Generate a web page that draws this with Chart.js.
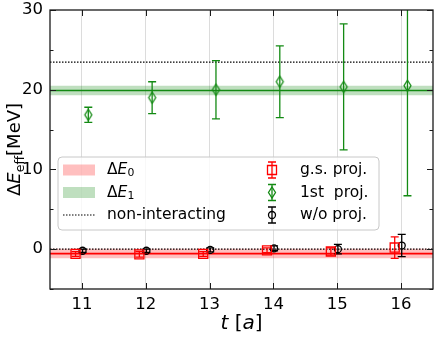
<!DOCTYPE html>
<html>
<head>
<meta charset="utf-8">
<script src="https://cdn.jsdelivr.net/npm/chart.js@4.4.0/dist/chart.umd.min.js"></script>
<style>
  html, body { margin: 0; padding: 0; background: #fff; }
  #wrap { width: 436px; height: 338px; }
</style>
</head>
<body>
<div id="wrap"><canvas id="chart" width="436" height="338"></canvas></div>
<script>
// time slices t [a]
const tValues = [11, 12, 13, 14, 15, 16];

// g.s. projected effective energies and errors
const gsVals = [-0.6, -0.65, -0.6, -0.15, -0.3, 0.2];
const gsErrs = [0.3, 0.35, 0.3, 0.3, 0.45, 1.35];

// 1st excited projected
const firstVals = [16.85, 19.0, 20.0, 21.0, 20.35, 20.5];
const firstErrs = [0.95, 2.0, 3.65, 4.5, 7.9, 13.8];

// without projection
const noProjVals = [-0.2, -0.2, -0.1, 0.1, 0.0, 0.45];
const noProjErrs = [0.2, 0.2, 0.25, 0.3, 0.6, 1.4];

// fit results [central, error]
const deltaE0 = [-0.55, 0.6];
const deltaE1 = [19.9, 0.6];
const nonInteracting = [0, 23.45];

const xRange = [10.5, 16.5];
const yRange = [-5, 30];
const xTicks = [11, 12, 13, 14, 15, 16];
const yMajorTicks = [0, 10, 20, 30];
const yMinorTicks = [-5, 5, 15, 25];

const RED = '#ff0000';
const GREEN = '#138a13';
const BLACK = '#000000';
const FONT = '"DejaVu Sans", sans-serif';

const pts = (vals, dx) => vals.map((v, i) => ({ x: tValues[i] + dx, y: v }));
const hline = y => [{ x: xRange[0], y: y }, { x: xRange[1], y: y }];

// thin diamond marker like matplotlib 'd'
function thinDiamond(color, w, h, lw) {
    const c = document.createElement('canvas');
    c.width = w + 4;
    c.height = h + 4;
    const g = c.getContext('2d');
    const cx = c.width / 2, cy = c.height / 2;
    g.strokeStyle = color;
    g.lineWidth = lw;
    g.beginPath();
    g.moveTo(cx, cy - h / 2);
    g.lineTo(cx + w / 2, cy);
    g.lineTo(cx, cy + h / 2);
    g.lineTo(cx - w / 2, cy);
    g.closePath();
    g.stroke();
    return c;
}
const diamondImg = thinDiamond(GREEN, 7, 11, 1.3);

function bandDataset(fit, color) {
    return {
        type: 'line',
        data: hline(fit[0] - fit[1]),
        fill: { value: fit[0] + fit[1] },
        backgroundColor: color,
        borderWidth: 0,
        pointRadius: 0,
        order: 5
    };
}

function lineDataset(y, color, width, dash) {
    return {
        type: 'line',
        data: hline(y),
        borderColor: color,
        borderWidth: width,
        borderDash: dash || [],
        pointRadius: 0,
        fill: false,
        order: 3
    };
}

// vertical error bars, drawn just before their markers
const errorBars = {
    id: 'errorBars',
    beforeDatasetDraw(chart, args) {
        const ds = chart.data.datasets[args.index];
        if (!ds.errors) return;
        const ctx = chart.ctx;
        const y = chart.scales.y;
        const area = chart.chartArea;
        ctx.save();
        ctx.beginPath();
        ctx.rect(area.left, area.top, area.right - area.left, area.bottom - area.top);
        ctx.clip();
        ctx.strokeStyle = ds.borderColor;
        ctx.lineWidth = 1.3;
        args.meta.data.forEach((p, i) => {
            const v = ds.data[i].y, e = ds.errors[i];
            const y1 = y.getPixelForValue(v + e), y2 = y.getPixelForValue(v - e);
            ctx.beginPath();
            ctx.moveTo(p.x, y1); ctx.lineTo(p.x, y2);
            ctx.moveTo(p.x - 4, y1); ctx.lineTo(p.x + 4, y1);
            ctx.moveTo(p.x - 4, y2); ctx.lineTo(p.x + 4, y2);
            ctx.stroke();
        });
        ctx.restore();
    }
};

function drawMath(ctx, parts, x, y, size) {
    parts.forEach(p => {
        const s = p.sub ? size * 0.7 : size;
        ctx.font = (p.italic ? 'italic ' : '') + s + 'px ' + FONT;
        ctx.fillText(p.t, x, y + (p.sub ? size * 0.22 : 0));
        x += ctx.measureText(p.t).width;
    });
    return x;
}
function mathWidth(ctx, parts, size) {
    let w = 0;
    parts.forEach(p => {
        const s = p.sub ? size * 0.7 : size;
        ctx.font = (p.italic ? 'italic ' : '') + s + 'px ' + FONT;
        w += ctx.measureText(p.t).width;
    });
    return w;
}

function legendMarker(ctx, x, y, color, kind) {
    ctx.strokeStyle = color;
    ctx.lineWidth = 1.3;
    ctx.beginPath();
    ctx.moveTo(x, y - 8); ctx.lineTo(x, y + 8);
    ctx.moveTo(x - 4, y - 8); ctx.lineTo(x + 4, y - 8);
    ctx.moveTo(x - 4, y + 8); ctx.lineTo(x + 4, y + 8);
    ctx.stroke();
    ctx.beginPath();
    if (kind === 'rect') ctx.rect(x - 4.5, y - 4.5, 9, 9);
    else if (kind === 'circle') ctx.arc(x, y, 3.5, 0, Math.PI * 2);
    else { ctx.moveTo(x, y - 5.5); ctx.lineTo(x + 3.5, y); ctx.lineTo(x, y + 5.5); ctx.lineTo(x - 3.5, y); ctx.closePath(); }
    ctx.stroke();
}

// frame, inward ticks, axis titles and legend
const decorations = {
    id: 'decorations',
    afterDraw(chart) {
        const ctx = chart.ctx;
        const a = chart.chartArea;
        const xs = chart.scales.x, ys = chart.scales.y;
        ctx.save();
        ctx.strokeStyle = '#1a1a1a';
        ctx.lineWidth = 1;
        ctx.beginPath();
        xTicks.forEach(v => {
            const px = Math.round(xs.getPixelForValue(v)) + 0.5;
            ctx.moveTo(px, a.bottom); ctx.lineTo(px, a.bottom - 6);
            ctx.moveTo(px, a.top); ctx.lineTo(px, a.top + 6);
        });
        yMajorTicks.forEach(v => {
            const py = Math.round(ys.getPixelForValue(v)) + 0.5;
            ctx.moveTo(a.left, py); ctx.lineTo(a.left + 6, py);
            ctx.moveTo(a.right, py); ctx.lineTo(a.right - 6, py);
        });
        yMinorTicks.forEach(v => {
            const py = Math.round(ys.getPixelForValue(v)) + 0.5;
            ctx.moveTo(a.left, py); ctx.lineTo(a.left + 3.5, py);
            ctx.moveTo(a.right, py); ctx.lineTo(a.right - 3.5, py);
        });
        ctx.stroke();
        ctx.lineWidth = 1.3;
        ctx.strokeRect(a.left, a.top, a.right - a.left, a.bottom - a.top);

        // axis titles
        ctx.fillStyle = '#000';
        ctx.textBaseline = 'alphabetic';
        const xt = [{ t: 't', italic: true }, { t: ' [' }, { t: 'a', italic: true }, { t: ']' }];
        const xw = mathWidth(ctx, xt, 20);
        drawMath(ctx, xt, (a.left + a.right) / 2 - xw / 2, 329, 20);

        const yt = [{ t: 'Δ' }, { t: 'E', italic: true }, { t: 'eff', sub: true }, { t: '[MeV]' }];
        const yw = mathWidth(ctx, yt, 18);
        ctx.save();
        ctx.translate(20, (a.top + a.bottom) / 2);
        ctx.rotate(-Math.PI / 2);
        drawMath(ctx, yt, -yw / 2, 0, 18);
        ctx.restore();

        // legend box
        const bx = 58, by = 157, bw = 321, bh = 73;
        ctx.beginPath();
        ctx.roundRect(bx, by, bw, bh, 4);
        ctx.fillStyle = 'rgba(255,255,255,0.8)';
        ctx.fill();
        ctx.strokeStyle = '#c8c8c8';
        ctx.lineWidth = 1;
        ctx.stroke();

        const rows = [170, 192.5, 215];
        ctx.fillStyle = 'rgba(255,0,0,0.25)';
        ctx.fillRect(63, rows[0] - 5.5, 32, 11);
        ctx.fillStyle = 'rgba(0,128,0,0.25)';
        ctx.fillRect(63, rows[1] - 5.5, 32, 11);
        ctx.strokeStyle = BLACK;
        ctx.lineWidth = 1.2;
        ctx.setLineDash([1.5, 1.5]);
        ctx.beginPath();
        ctx.moveTo(63, rows[2]); ctx.lineTo(95, rows[2]);
        ctx.stroke();
        ctx.setLineDash([]);

        ctx.fillStyle = '#000';
        ctx.textBaseline = 'middle';
        drawMath(ctx, [{ t: 'Δ' }, { t: 'E', italic: true }, { t: '0', sub: true }], 107, rows[0], 15.5);
        drawMath(ctx, [{ t: 'Δ' }, { t: 'E', italic: true }, { t: '1', sub: true }], 107, rows[1], 15.5);
        drawMath(ctx, [{ t: 'non-interacting' }], 107, rows[2], 15.5);

        legendMarker(ctx, 272, rows[0], RED, 'rect');
        legendMarker(ctx, 272, rows[1], GREEN, 'diamond');
        legendMarker(ctx, 272, rows[2], BLACK, 'circle');
        ctx.fillStyle = '#000';
        drawMath(ctx, [{ t: 'g.s. proj.' }], 300, rows[0], 15.5);
        drawMath(ctx, [{ t: '1st  proj.' }], 300, rows[1], 15.5);
        drawMath(ctx, [{ t: 'w/o proj.' }], 300, rows[2], 15.5);
        ctx.restore();
    }
};

new Chart(document.getElementById('chart').getContext('2d'), {
    type: 'scatter',
    data: {
        datasets: [
            {
                data: pts(gsVals, -0.1), errors: gsErrs,
                borderColor: RED, backgroundColor: 'transparent', borderWidth: 1.3,
                pointStyle: 'rect', pointRadius: 6.4, order: 0
            },
            {
                data: pts(firstVals, 0.1), errors: firstErrs,
                borderColor: GREEN, backgroundColor: 'transparent',
                pointStyle: diamondImg, order: 0
            },
            {
                data: pts(noProjVals, 0.01), errors: noProjErrs,
                borderColor: BLACK, backgroundColor: 'transparent', borderWidth: 1.3,
                pointStyle: 'circle', pointRadius: 3.5, order: 0
            },
            lineDataset(nonInteracting[0], BLACK, 1.2, [1.5, 1.5]),
            lineDataset(nonInteracting[1], BLACK, 1.2, [1.5, 1.5]),
            lineDataset(deltaE0[0], RED, 1.8),
            lineDataset(deltaE1[0], GREEN, 1.6),
            bandDataset(deltaE0, 'rgba(255,0,0,0.25)'),
            bandDataset(deltaE1, 'rgba(0,128,0,0.25)')
        ]
    },
    options: {
        responsive: false,
        animation: false,
        devicePixelRatio: 1,
        layout: { autoPadding: false, padding: { top: 10, right: 3, left: 0, bottom: 0 } },
        plugins: { legend: { display: false }, tooltip: { enabled: false } },
        scales: {
            x: {
                type: 'linear', min: xRange[0], max: xRange[1],
                afterBuildTicks: s => { s.ticks = xTicks.map(v => ({ value: v })); },
                afterFit: s => { s.height = 49; s.paddingLeft = 0; s.paddingRight = 0; },
                ticks: { font: { family: FONT, size: 16.5 }, color: '#000', padding: 6, maxRotation: 0 },
                grid: { color: '#dcdcdc', lineWidth: 1, drawTicks: false },
                border: { display: false }
            },
            y: {
                min: yRange[0], max: yRange[1],
                afterBuildTicks: s => { s.ticks = yMajorTicks.map(v => ({ value: v })); },
                afterFit: s => { s.width = 50; s.paddingTop = 0; s.paddingBottom = 0; },
                ticks: { font: { family: FONT, size: 16.5 }, color: '#000', padding: 7 },
                grid: { display: false, drawTicks: false },
                border: { display: false }
            }
        }
    },
    plugins: [errorBars, decorations]
});
</script>
</body>
</html>
